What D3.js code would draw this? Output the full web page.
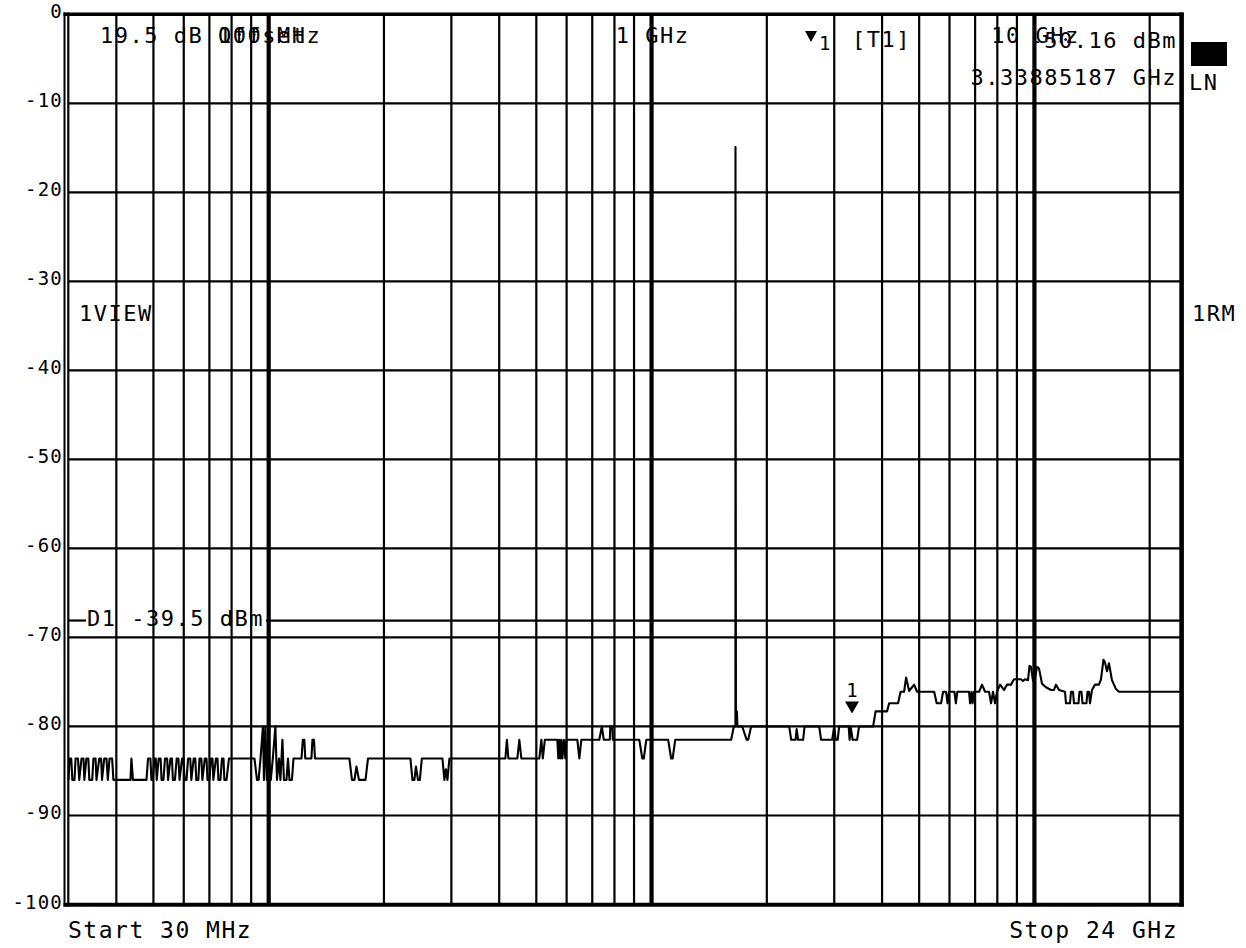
<!DOCTYPE html>
<html><head><meta charset="utf-8">
<script src="https://cdn.jsdelivr.net/npm/d3@7"></script>
<style>
html,body{margin:0;padding:0;background:#fff;}
svg{display:block;}
text{font-family:"DejaVu Sans Mono","Liberation Mono",monospace;fill:#000;}
</style></head><body>
<svg id="chart" width="1246" height="948"></svg>
<script>
// ---------------- data ----------------
const startMHz = 30, stopMHz = 24000;
const levelTicks = [0,-10,-20,-30,-40,-50,-60,-70,-80,-90,-100];
const levelLabels = ["0","-10","-20","-30","-40","-50","-60","-70","-80","-90","-100"];
const minorGridMHz = [40,50,60,70,80,90,200,300,400,500,600,700,800,900,
  2000,3000,4000,5000,6000,7000,8000,9000,20000];
const decadeGridMHz = [100,1000,10000];
const decadeLabels = ["100 MHz","1 GHz","10 GHz"];

const traceMHz = [
  30,30.2,30.5,30.7,31.1,31.3,31.76,32.0,32.44,32.83,33.0,33.4,33.8,34.0,34.6,34.85,35.3,35.5,36.1,36.5,36.7,37.2,37.7,38.0,38.4,39.0,39.3,40.0,
  43.55,43.8,44.2,47.95,48.4,49.1,49.4,49.8,50.3,50.7,51.0,51.6,52.2,52.5,53.1,53.6,54.3,54.6,55.4,55.9,56.2,56.9,57.5,58.1,58.5,59.4,59.9,60.3,
  61.0,61.6,62.4,62.8,63.7,64.3,64.7,65.5,65.95,66.7,67.1,68.1,68.8,69.2,70.0,70.7,71.3,71.7,72.8,73.5,73.9,74.8,75.5,76.2,76.6,77.6,78.75,
  91.8,93.2,94.1,95.2,96.6,97.2,98.0,98.9,100.1,101.3,102.5,104.1,105.1,106.4,107.3,108.6,109.6,111.3,112.3,113.3,115.0,116.1,
  121.8,122.8,123.9,124.6,129.3,130.1,131.3,132.1,162.5,165.0,167.5,169.5,172.1,179.0,181.7,
  234.5,237.4,240.2,242.4,245.4,248.2,251.2,284.3,287.7,290.3,293.0,296.5,
  415.1,418.9,422.7,446.1,451.5,457.0,509.2,515.4,520.0,526.3,567.4,570.8,574.3,577.8,581.3,584.8,590.1,595.4,599.0,
  640.0,647.7,655.5,730.4,741.4,750.3,777.9,780.3,789.7,792.1,928.9,945.8,954.3,968.8,
  1105,1125,1135,1153,1614,1640,1656,1656.5,1661,1671,1676,1725,1772,1788,1820,
  2288,2316,2378,2393,2414,2488,2510,2740,2773,2963,2999,3026,3063,3090,
  3272,3291,3311,3351,3442,3484,3790,3847,4123,4173,4404,4471,4567,4622,4706,4791,4849,4938,
  5472,5555,5704,5773,5878,5931,5985,6180,6235,6290,6749,6790,6851,6893,6953,7167,7297,7430,
  7611,7703,7796,7890,7986,8132,8329,8481,8687,8845,9225,9335,9449,9622,9709,9797,9916,
  10036,10157,10280,10467,10720,11047,11248,11384,11593,12018,12090,12385,12460,12610,12686,
  13034,13112,13271,13351,13674,13758,13883,13967,14136,14393,14743,14921,15148,15285,15471,
  15656,15940,16327,16626,24000
];
const traceDbm = [
  -86,-83.6,-83.6,-86,-86,-83.6,-83.6,-86,-83.6,-83.6,-86,-83.6,-83.6,-86,-86,-83.6,-83.6,-86,-83.6,-83.6,-86,-83.6,-83.6,-86,-83.6,-83.6,-86,-86,
  -86,-83.6,-86,-86,-83.6,-83.6,-86,-86,-83.6,-83.6,-86,-83.6,-83.6,-86,-86,-83.6,-83.6,-86,-83.6,-83.6,-86,-86,-83.6,-83.6,-86,-83.6,-83.6,-86,
  -86,-83.6,-83.6,-86,-83.6,-83.6,-86,-86,-83.6,-83.6,-86,-83.6,-83.6,-86,-86,-83.6,-83.6,-86,-83.6,-83.6,-86,-86,-83.6,-83.6,-86,-86,-83.6,
  -83.6,-86,-86,-83.6,-80,-86,-80,-86,-83.6,-86,-83.6,-80,-86,-83.6,-86,-81.5,-86,-86,-83.6,-86,-86,-83.6,
  -83.6,-81.5,-81.5,-83.6,-83.6,-81.5,-81.5,-83.6,-83.6,-86,-86,-84.5,-86,-86,-83.6,
  -83.6,-86,-86,-84.5,-86,-86,-83.6,-83.6,-86,-84.8,-86,-83.6,
  -83.6,-81.5,-83.6,-83.6,-81.5,-83.6,-83.6,-81.5,-83.6,-81.5,-81.5,-83.6,-81.5,-83.6,-81.5,-83.6,-81.5,-83.6,-81.5,
  -81.5,-83.6,-81.5,-81.5,-80,-81.5,-81.5,-80,-80,-81.5,-81.5,-83.6,-83.6,-81.5,
  -81.5,-83.6,-83.6,-81.5,-81.5,-80,-80,-14.9,-78.3,-78.3,-80,-80,-81.5,-81.5,-80,
  -80,-81.5,-81.5,-80.3,-81.5,-81.5,-80,-80,-81.5,-81.5,-80,-81.5,-81.5,-80,
  -80,-81.5,-80,-81.5,-81.5,-80,-80,-78.3,-78.3,-77.4,-77.4,-76.1,-76.1,-74.5,-76.0,-75.6,-75.3,-76.1,
  -76.1,-77.4,-77.4,-76.1,-76.1,-77.4,-76.1,-76.1,-77.4,-76.1,-76.1,-77.4,-76.1,-77.4,-76.1,-76.1,-75.3,-76.1,
  -76.1,-77.4,-76.1,-77.4,-76.1,-75.3,-75.9,-75.3,-75.3,-74.7,-74.7,-74.9,-74.7,-74.8,-73.2,-73.3,-74.9,
  -74.6,-73.3,-73.5,-75.2,-75.6,-75.9,-75.9,-75.3,-75.9,-76.1,-77.4,-77.4,-76.1,-76.1,-77.4,
  -77.4,-76.1,-76.1,-77.4,-77.4,-76.1,-76.1,-77.4,-75.9,-75.3,-75.3,-74.7,-72.5,-72.8,-73.8,
  -72.9,-74.8,-75.8,-76.1,-76.1
];

const markerMHz = 3338.85187;
const markerTraceDbm = -80;
const markerReadout = ["-50.16 dBm", "3.33885187 GHz"];
const offsetText = "19.5 dB Offset";
const displayLineDbm = -68.1;
const displayLineText = "D1 -39.5 dBm";
const startText = "Start 30 MHz", stopText = "Stop 24 GHz";

// ---------------- drawing ----------------
const svg = d3.select("#chart");
const x = d3.scaleLog().domain([startMHz, stopMHz]).range([68.5, 1180]);
const y = d3.scaleLinear().domain([-100, 0]).range([904.5, 14.3]);

const g = svg.append("g");
// horizontal grid
g.selectAll("line.h").data(levelTicks.slice(1, -1)).enter().append("line")
  .attr("x1", 68.5).attr("x2", 1180).attr("y1", d => y(d)).attr("y2", d => y(d))
  .attr("stroke", "#000").attr("stroke-width", 2.2);
// vertical minor grid
g.selectAll("line.v").data(minorGridMHz).enter().append("line")
  .attr("x1", d => x(d)).attr("x2", d => x(d)).attr("y1", 14).attr("y2", 905)
  .attr("stroke", "#000").attr("stroke-width", 2.2);
// decade lines
g.selectAll("line.d").data(decadeGridMHz).enter().append("line")
  .attr("x1", d => x(d)).attr("x2", d => x(d)).attr("y1", 14).attr("y2", 905)
  .attr("stroke", "#000").attr("stroke-width", 4.2);

// frame
g.append("line").attr("x1", 64.5).attr("x2", 64.5).attr("y1", 12.5).attr("y2", 906.5)
  .attr("stroke", "#000").attr("stroke-width", 2);
g.append("line").attr("x1", 63.5).attr("x2", 1183.5).attr("y1", 14.3).attr("y2", 14.3).attr("stroke", "#000").attr("stroke-width", 3.4);
g.append("line").attr("x1", 63.5).attr("x2", 1183.5).attr("y1", 904.7).attr("y2", 904.7).attr("stroke", "#000").attr("stroke-width", 4);
g.append("line").attr("x1", 1181.6).attr("x2", 1181.6).attr("y1", 12.6).attr("y2", 906.7).attr("stroke", "#000").attr("stroke-width", 4.6);
g.append("line").attr("x1", 68.3).attr("x2", 68.3).attr("y1", 12.6).attr("y2", 906.7).attr("stroke", "#000").attr("stroke-width", 2.2);

// y labels
svg.selectAll("text.yl").data(levelTicks).enter().append("text")
  .attr("x", 63).attr("y", d => y(d) + 4).attr("text-anchor", "end")
  .style("font-size", "19px").style("letter-spacing", "1.2px")
  .text((d, i) => levelLabels[i]);

// display line D1
const dlY = y(displayLineDbm);
const dlText = svg.append("text").attr("x", 87).attr("y", dlY + 5)
  .style("font-size", "22px").style("letter-spacing", "1.5px").text(displayLineText);
const dlBox = dlText.node().getBBox();
g.append("line").attr("x1", 68.5).attr("x2", 86).attr("y1", dlY).attr("y2", dlY).attr("stroke", "#000").attr("stroke-width", 2.2);
g.append("line").attr("x1", dlBox.x + dlBox.width + 2).attr("x2", 1180).attr("y1", dlY).attr("y2", dlY).attr("stroke", "#000").attr("stroke-width", 2.2);

// trace
const pts = traceMHz.map((f, i) => [f, traceDbm[i]]);
const line = d3.line().x(d => x(d[0])).y(d => y(d[1]));
svg.append("path").attr("d", line(pts)).attr("fill", "none")
  .attr("stroke", "#000").attr("stroke-width", 2.1).attr("stroke-linejoin", "round");

// marker on trace
const mx = x(markerMHz), my = y(markerTraceDbm) - 13;
svg.append("path").attr("d", `M${mx - 7},${my - 12}L${mx + 7},${my - 12}L${mx},${my}Z`).attr("fill", "#000");
svg.append("text").attr("x", mx).attr("y", my - 16).attr("text-anchor", "middle")
  .style("font-size", "19px").text("1");

// top texts
const big = sel => sel.style("font-size", "22px").style("letter-spacing", "1.5px");
big(svg.append("text").attr("x", 100).attr("y", 43).text(offsetText));
svg.selectAll("text.dec").data(decadeGridMHz).enter().append("text")
  .attr("x", d => x(d) + 1).attr("y", 43).attr("text-anchor", "middle")
  .style("font-size", "22px").style("letter-spacing", "1.5px")
  .text((d, i) => decadeLabels[i]);

// marker readout
svg.append("path").attr("d", "M805,31L817,31L811,42Z").attr("fill", "#000");
svg.append("text").attr("x", 819).attr("y", 50).style("font-size", "19px").text("1");
big(svg.append("text").attr("x", 852).attr("y", 47).text("[T1]"));
big(svg.append("text").attr("x", 1177).attr("y", 48).attr("text-anchor", "end").text(markerReadout[0]));
big(svg.append("text").attr("x", 1177).attr("y", 85).attr("text-anchor", "end").text(markerReadout[1]));

// right side indicators
svg.append("rect").attr("x", 1191).attr("y", 42).attr("width", 36).attr("height", 24).attr("fill", "#000");
big(svg.append("text").attr("x", 1189).attr("y", 90).text("LN"));
big(svg.append("text").attr("x", 1192).attr("y", 321).text("1RM"));
big(svg.append("text").attr("x", 79).attr("y", 321).text("1VIEW"));

// bottom texts
const bot = sel => sel.style("font-size", "23px").style("letter-spacing", "1.5px");
bot(svg.append("text").attr("x", 68).attr("y", 938).text(startText));
bot(svg.append("text").attr("x", 1178).attr("y", 938).attr("text-anchor", "end").text(stopText));
</script>
</body></html>
